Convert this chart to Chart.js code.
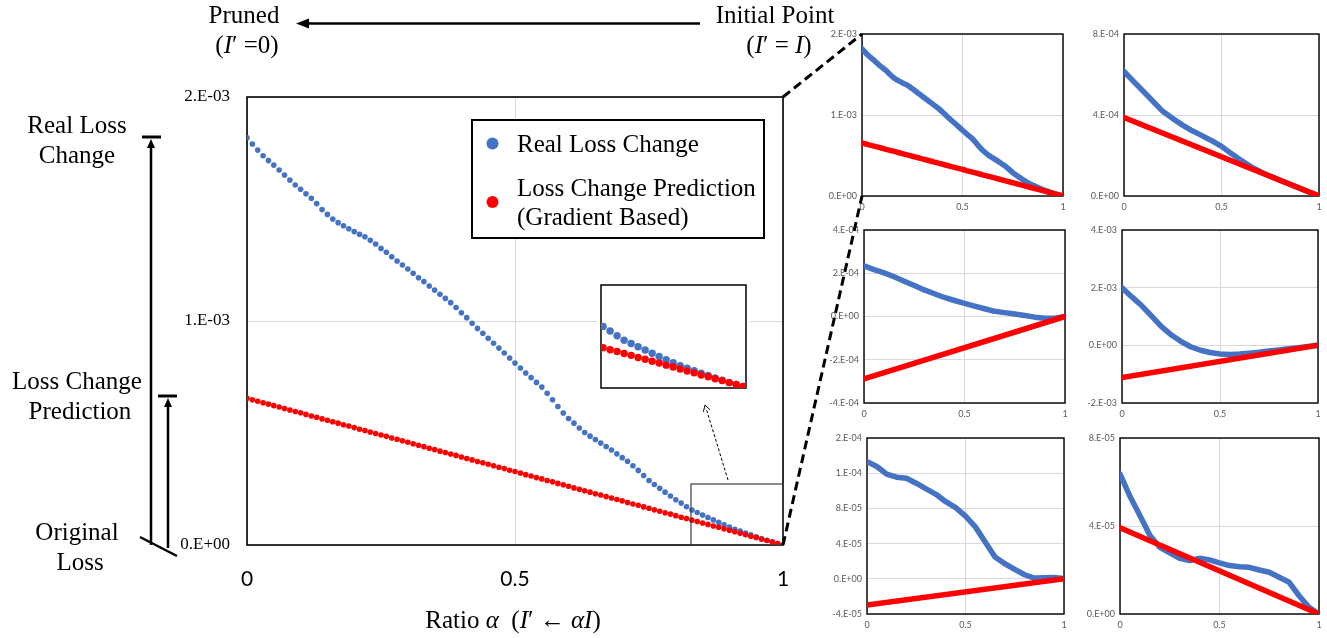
<!DOCTYPE html>
<html>
<head>
<meta charset="utf-8">
<script src="https://cdn.jsdelivr.net/npm/chart.js@4.4.1/dist/chart.umd.min.js"></script>
<style>
  html, body { margin: 0; padding: 0; background: #fff; }
  #page { position: relative; width: 1327px; height: 638px; overflow: hidden; background: #fff; }
  #page canvas { position: absolute; }
  #inset { background: #fff; }
  #overlay { position: absolute; left: 0; top: 0; pointer-events: none; }
  #overlay text { font-family: "Liberation Serif", "Times New Roman", serif; font-size: 25px; fill: #000; white-space: pre; }
</style>
</head>
<body>
<div id="page">
  <canvas id="main"></canvas>
  <canvas id="inset"></canvas>
  <canvas id="s1"></canvas>
  <canvas id="s2"></canvas>
  <canvas id="s3"></canvas>
  <canvas id="s4"></canvas>
  <canvas id="s5"></canvas>
  <canvas id="s6"></canvas>

  <svg id="overlay" width="1327" height="638">
    <!-- top: direction of pruning -->
    <text x="244" y="23" text-anchor="middle">Pruned</text>
    <text x="247" y="53" text-anchor="middle">(<tspan font-style="italic">I</tspan>′ =0)</text>
    <text x="775" y="23" text-anchor="middle">Initial Point</text>
    <text x="779" y="53" text-anchor="middle">(<tspan font-style="italic">I</tspan>′ = <tspan font-style="italic">I</tspan>)</text>
    <line x1="700" y1="23.5" x2="306" y2="23.5" stroke="#000" stroke-width="2.5"/>
    <polygon points="296,23.5 309,18.5 309,28.5" fill="#000"/>

    <!-- left: loss levels -->
    <text x="77" y="133" text-anchor="middle">Real Loss</text>
    <text x="77" y="163" text-anchor="middle">Change</text>
    <text x="77" y="389" text-anchor="middle">Loss Change</text>
    <text x="80" y="419" text-anchor="middle">Prediction</text>
    <text x="77" y="540" text-anchor="middle">Original</text>
    <text x="80" y="570" text-anchor="middle">Loss</text>
    <line x1="142" y1="137" x2="161" y2="137" stroke="#000" stroke-width="3"/>
    <line x1="151" y1="545" x2="151" y2="146" stroke="#000" stroke-width="2.5"/>
    <polygon points="151,139 147,148 155,148" fill="#000"/>
    <line x1="158" y1="396" x2="177" y2="396" stroke="#000" stroke-width="3"/>
    <line x1="168" y1="548" x2="168" y2="405" stroke="#000" stroke-width="2.5"/>
    <polygon points="168,398 164,407 172,407" fill="#000"/>
    <line x1="140" y1="537" x2="177" y2="556" stroke="#000" stroke-width="2.5"/>

    <!-- x axis title -->
    <text x="513" y="628" text-anchor="middle">Ratio <tspan font-style="italic">α</tspan>  (<tspan font-style="italic">I</tspan>′ ← <tspan font-style="italic">αI</tspan>)</text>

    <!-- legend -->
    <rect x="472" y="120" width="292" height="118" fill="#fff" stroke="#000" stroke-width="2"/>
    <circle cx="492.5" cy="143.5" r="6" fill="#4472C4"/>
    <circle cx="492.5" cy="202" r="6" fill="#FF0000"/>
    <text x="517" y="152">Real Loss Change</text>
    <text x="517" y="196">Loss Change Prediction</text>
    <text x="517" y="225">(Gradient Based)</text>

    <!-- zoom marks -->
    <rect x="691" y="484" width="92" height="61" fill="none" stroke="#404040" stroke-width="1.2"/>
    <line x1="728" y1="480" x2="706" y2="408" stroke="#000" stroke-width="1" stroke-dasharray="3 2"/>
    <polyline points="703.4,411.8 705,405 710.1,409.8" fill="none" stroke="#000" stroke-width="1"/>
    <line x1="783" y1="97" x2="862" y2="34" stroke="#000" stroke-width="3" stroke-dasharray="9 5"/>
    <line x1="783" y1="545" x2="862" y2="196" stroke="#000" stroke-width="3" stroke-dasharray="9 5"/>
  </svg>
</div>

<script>
const BLUE = '#4472C4';
const RED = '#FF0000';
const GRID = '#D9D9D9';

// ratio alpha on the x axis
const ratioFine = [
  0, 0.01, 0.02, 0.03, 0.04, 0.05, 0.06, 0.07, 0.08, 0.09,
  0.1, 0.11, 0.12, 0.13, 0.14, 0.15, 0.16, 0.17, 0.18, 0.19,
  0.2, 0.21, 0.22, 0.23, 0.24, 0.25, 0.26, 0.27, 0.28, 0.29,
  0.3, 0.31, 0.32, 0.33, 0.34, 0.35, 0.36, 0.37, 0.38, 0.39,
  0.4, 0.41, 0.42, 0.43, 0.44, 0.45, 0.46, 0.47, 0.48, 0.49,
  0.5, 0.51, 0.52, 0.53, 0.54, 0.55, 0.56, 0.57, 0.58, 0.59,
  0.6, 0.61, 0.62, 0.63, 0.64, 0.65, 0.66, 0.67, 0.68, 0.69,
  0.7, 0.71, 0.72, 0.73, 0.74, 0.75, 0.76, 0.77, 0.78, 0.79,
  0.8, 0.81, 0.82, 0.83, 0.84, 0.85, 0.86, 0.87, 0.88, 0.89,
  0.9, 0.91, 0.92, 0.93, 0.94, 0.95, 0.96, 0.97, 0.98, 0.99, 1
];
const ratioCoarse = [0, 0.05, 0.1, 0.15, 0.2, 0.25, 0.3, 0.35, 0.4, 0.45, 0.5,
  0.55, 0.6, 0.65, 0.7, 0.75, 0.8, 0.85, 0.9, 0.95, 1];
const ratioEnds = [0, 1];

// main chart (values in 1e-4)
const mainReal = [
  18.18, 17.90, 17.63, 17.38, 17.16, 16.96, 16.74, 16.52, 16.29, 16.07,
  15.88, 15.68, 15.48, 15.24, 14.98, 14.76, 14.55, 14.39, 14.25, 14.12,
  13.99, 13.87, 13.76, 13.60, 13.44, 13.24, 13.07, 12.87, 12.68, 12.50,
  12.32, 12.13, 11.93, 11.76, 11.56, 11.38, 11.19, 11.01, 10.82, 10.60,
  10.37, 10.15, 9.90, 9.67, 9.45, 9.23, 9.01, 8.79, 8.57, 8.35,
  8.12, 7.90, 7.68, 7.47, 7.26, 7.05, 6.77, 6.48, 6.18, 5.89,
  5.65, 5.44, 5.22, 5.02, 4.86, 4.71, 4.55, 4.40, 4.24, 4.07,
  3.90, 3.74, 3.54, 3.33, 3.10, 2.88, 2.70, 2.53, 2.36, 2.19,
  2.02, 1.87, 1.71, 1.56, 1.45, 1.34, 1.23, 1.12, 1.01, 0.90,
  0.80, 0.70, 0.62, 0.53, 0.45, 0.37, 0.29, 0.21, 0.14, 0.07, 0
];
const mainPred = [
  6.55, 6.48, 6.42, 6.35, 6.29, 6.22, 6.16, 6.09, 6.03, 5.96,
  5.90, 5.83, 5.76, 5.70, 5.63, 5.57, 5.50, 5.44, 5.37, 5.31,
  5.24, 5.17, 5.11, 5.04, 4.98, 4.91, 4.85, 4.78, 4.72, 4.65,
  4.59, 4.52, 4.45, 4.39, 4.32, 4.26, 4.19, 4.13, 4.06, 4.00,
  3.93, 3.86, 3.80, 3.73, 3.67, 3.60, 3.54, 3.47, 3.41, 3.34,
  3.28, 3.21, 3.14, 3.08, 3.01, 2.95, 2.88, 2.82, 2.75, 2.69,
  2.62, 2.55, 2.49, 2.42, 2.36, 2.29, 2.23, 2.16, 2.10, 2.03,
  1.97, 1.90, 1.83, 1.77, 1.70, 1.64, 1.57, 1.51, 1.44, 1.38,
  1.31, 1.24, 1.18, 1.11, 1.05, 0.98, 0.92, 0.85, 0.79, 0.72,
  0.66, 0.59, 0.52, 0.46, 0.39, 0.33, 0.26, 0.20, 0.13, 0.07, 0
];

// small panels
const s2Real = [6.15, 5.65, 5.16, 4.66, 4.17, 3.83, 3.50, 3.22, 2.98, 2.73, 2.45,
  2.10, 1.77, 1.45, 1.20, 0.98, 0.78, 0.58, 0.39, 0.19, 0];         // 1e-4
const s2Pred = [3.87, 0];
const s3Real = [2.34, 2.17, 2.02, 1.84, 1.63, 1.43, 1.23, 1.05, 0.88, 0.74, 0.61,
  0.48, 0.36, 0.24, 0.18, 0.12, 0.05, -0.03, -0.08, -0.08, 0];       // 1e-4
const s3Pred = [-2.89, 0];
const s4Real = [2.00, 1.68, 1.38, 1.02, 0.66, 0.37, 0.14, -0.05, -0.17, -0.25, -0.30,
  -0.32, -0.30, -0.27, -0.24, -0.20, -0.16, -0.12, -0.08, -0.04, 0];  // 1e-3
const s4Pred = [-1.12, 0];
const s5Real = [13.3, 12.76, 11.89, 11.54, 11.43, 10.86, 10.21, 9.60, 8.76, 8.08, 7.12,
  5.90, 4.19, 2.48, 1.71, 1.07, 0.46, 0.08, 0.11, 0.15, 0.02];        // 1e-5
const s5Pred = [-2.97, 0];
const s6Real = [6.37, 5.35, 4.48, 3.58, 3.03, 2.78, 2.53, 2.43, 2.53, 2.46, 2.32,
  2.20, 2.15, 2.12, 2.00, 1.90, 1.67, 1.44, 0.83, 0.30, 0];           // 1e-5
const s6Pred = [3.92, 0];

// Excel style "2.E-03" labels
function sciLabel(unit) {
  return function(value) {
    const [m, e] = (value * unit).toExponential(0).split('e');
    const n = parseInt(e, 10);
    return m + '.E' + (n < 0 ? '-' : '+') + String(Math.abs(n)).padStart(2, '0');
  };
}

function points(xs, ys) {
  return xs.map((x, i) => ({ x: x, y: ys[i] }));
}

// plot frame drawn around the chart area
const framePlugin = {
  id: 'frame',
  beforeDatasetsDraw(chart, args, opts) {
    const { ctx, chartArea: a } = chart;
    ctx.save();
    ctx.strokeStyle = '#000';
    ctx.lineWidth = opts.width || 1.5;
    ctx.strokeRect(a.left, a.top, a.right - a.left, a.bottom - a.top);
    ctx.restore();
  }
};

// size a canvas so that its chart area lands on the given plot box
function place(id, plot, o) {
  const c = document.getElementById(id);
  const w = plot[2] + o.yW + o.padR;
  const h = plot[3] + o.padT + o.xH;
  c.width = w;
  c.height = h;
  c.style.left = (plot[0] - o.yW) + 'px';
  c.style.top = (plot[1] - o.padT) + 'px';
  c.style.width = w + 'px';
  c.style.height = h + 'px';
  return c;
}

function axes(o) {
  return {
    x: {
      type: 'linear', min: 0, max: 1,
      border: { display: false },
      grid: { color: GRID, drawTicks: false, lineWidth: 1 },
      ticks: { stepSize: 0.5, font: o.xFont, color: o.color, padding: o.xPad, maxRotation: 0, autoSkip: false,
        callback: v => String(v) },
      afterFit: s => { s.height = o.xH; }
    },
    y: {
      type: 'linear', min: o.min, max: o.max,
      border: { display: false },
      grid: { color: GRID, drawTicks: false, lineWidth: 1 },
      ticks: { stepSize: o.step, font: o.yFont, color: o.color, padding: o.yPad, autoSkip: false,
        callback: sciLabel(o.unit) },
      afterFit: s => { s.width = o.yW; }
    }
  };
}

// main chart
const mainLayout = {
  min: 0, max: 20, step: 10, unit: 1e-4, color: '#000',
  xFont: { family: 'Lato', size: 21 }, xPad: 22, xH: 50,
  yFont: { family: 'Liberation Serif', size: 17 }, yPad: 17, yW: 117,
  padT: 30, padR: 40
};
const mainCanvas = place('main', [247, 97, 536, 448], mainLayout);
new Chart(mainCanvas, {
  type: 'scatter',
  data: {
    datasets: [
      { label: 'Real Loss Change', data: points(ratioFine, mainReal), order: 1,
        pointRadius: 2.8, pointBorderWidth: 0, pointBackgroundColor: BLUE, backgroundColor: BLUE },
      { label: 'Loss Change Prediction (Gradient Based)', data: points(ratioFine, mainPred), order: 0,
        pointRadius: 2.8, pointBorderWidth: 0, pointBackgroundColor: RED, backgroundColor: RED }
    ]
  },
  options: {
    responsive: false,
    animation: false,
    devicePixelRatio: 1,
    layout: { padding: { top: mainLayout.padT, right: mainLayout.padR, left: 0, bottom: 0 } },
    plugins: { legend: { display: false }, tooltip: { enabled: false }, frame: { width: 1.6 } },
    scales: axes(mainLayout)
  },
  plugins: [framePlugin]
});

// magnified inset of the tail
const insetLayout = { yW: 2, xH: 2, padT: 2, padR: 2 };
const insetCanvas = place('inset', [599, 283, 149, 107], insetLayout);
new Chart(insetCanvas, {
  type: 'scatter',
  data: {
    datasets: [
      { data: points(ratioFine, mainReal), order: 1, clip: 0,
        pointRadius: 3.7, pointBorderWidth: 0, pointBackgroundColor: BLUE },
      { data: points(ratioFine, mainPred), order: 0, clip: 0,
        pointRadius: 3.7, pointBorderWidth: 0, pointBackgroundColor: RED }
    ]
  },
  options: {
    responsive: false,
    animation: false,
    devicePixelRatio: 1,
    layout: { padding: 2 },
    plugins: { legend: { display: false }, tooltip: { enabled: false }, frame: { width: 1.5 } },
    scales: {
      x: { type: 'linear', display: false, min: 0.797, max: 1.004 },
      y: { type: 'linear', display: false, min: -0.05, max: 3.42 }
    }
  },
  plugins: [framePlugin]
});

// six small panels
const panels = [
  { id: 's1', plot: [862, 34, 201, 162], x: ratioFine, real: mainReal, pred: mainPred, predX: ratioFine,
    unit: 1e-4, min: 0, max: 20, step: 10 },
  { id: 's2', plot: [1124, 34, 195, 162], x: ratioCoarse, real: s2Real, pred: s2Pred, predX: ratioEnds,
    unit: 1e-4, min: 0, max: 8, step: 4 },
  { id: 's3', plot: [864, 230, 201, 173], x: ratioCoarse, real: s3Real, pred: s3Pred, predX: ratioEnds,
    unit: 1e-4, min: -4, max: 4, step: 2 },
  { id: 's4', plot: [1122, 230, 196, 173], x: ratioCoarse, real: s4Real, pred: s4Pred, predX: ratioEnds,
    unit: 1e-3, min: -2, max: 4, step: 2 },
  { id: 's5', plot: [867, 438, 197, 176], x: ratioCoarse, real: s5Real, pred: s5Pred, predX: ratioEnds,
    unit: 1e-5, min: -4, max: 16, step: 4 },
  { id: 's6', plot: [1120, 438, 199, 176], x: ratioCoarse, real: s6Real, pred: s6Pred, predX: ratioEnds,
    unit: 1e-5, min: 0, max: 8, step: 4 }
];

panels.forEach(p => {
  const layout = {
    min: p.min, max: p.max, step: p.step, unit: p.unit, color: '#595959',
    xFont: { family: 'Lato', size: 9 }, xPad: 6, xH: 22,
    yFont: { family: 'Lato', size: 9 }, yPad: 5, yW: 45,
    padT: 14, padR: 12
  };
  const canvas = place(p.id, p.plot, layout);
  new Chart(canvas, {
    type: 'scatter',
    data: {
      datasets: [
        { data: points(p.x, p.real), order: 1, showLine: true, pointRadius: 0,
          borderColor: BLUE, borderWidth: 5.5, borderCapStyle: 'round', borderJoinStyle: 'round' },
        { data: points(p.predX, p.pred), order: 0, showLine: true, pointRadius: 0,
          borderColor: RED, borderWidth: 5.5, borderCapStyle: 'round', borderJoinStyle: 'round' }
      ]
    },
    options: {
      responsive: false,
      animation: false,
      devicePixelRatio: 1,
      layout: { padding: { top: layout.padT, right: layout.padR, left: 0, bottom: 0 } },
      plugins: { legend: { display: false }, tooltip: { enabled: false }, frame: { width: 1.4 } },
      scales: axes(layout)
    },
    plugins: [framePlugin]
  });
});
</script>
</body>
</html>
